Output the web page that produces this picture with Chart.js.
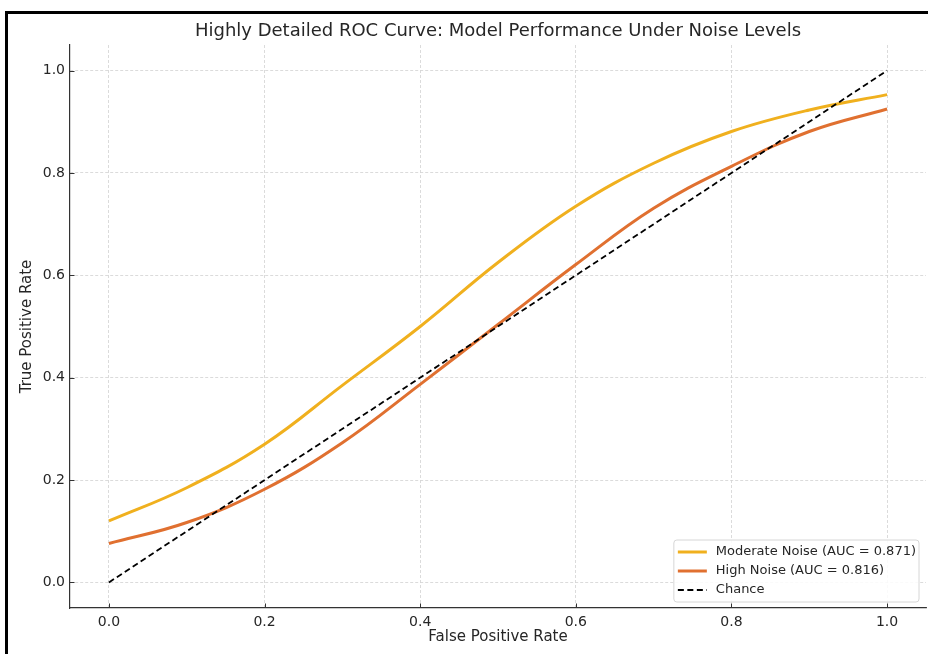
<!DOCTYPE html>
<html>
<head>
<meta charset="utf-8">
<script src="https://cdn.jsdelivr.net/npm/chart.js@4.4.1/dist/chart.umd.min.js"></script>
<style>
  html, body { margin: 0; padding: 0; background: #fff; overflow: hidden; }
  #wrap { position: relative; width: 928px; height: 654px; }
  #frame { position: absolute; left: 5px; top: 11px; width: 1200px; height: 1200px; border: 3px solid #000; pointer-events: none; }
</style>
</head>
<body>
<div id="wrap">
  <canvas id="rocChart" width="928" height="654"></canvas>
  <div id="frame"></div>
</div>
<script>
// values
var fpr = [0.0, 0.1, 0.2, 0.3, 0.4, 0.5, 0.6, 0.7, 0.8, 0.9, 1.0];
var moderateTpr = [0.120, 0.185, 0.270, 0.385, 0.500, 0.625, 0.735, 0.819, 0.881, 0.923, 0.953];
var highTpr = [0.076, 0.117, 0.182, 0.273, 0.387, 0.504, 0.621, 0.731, 0.813, 0.881, 0.925];
var chanceFpr = [0, 1];
var chanceTpr = [0, 1];
var seriesLabels = ['Moderate Noise (AUC = 0.871)', 'High Noise (AUC = 0.816)', 'Chance'];
var xTicks = [0.0, 0.2, 0.4, 0.6, 0.8, 1.0];
var yTicks = [0.0, 0.2, 0.4, 0.6, 0.8, 1.0];
var chartTitle = 'Highly Detailed ROC Curve: Model Performance Under Noise Levels';

var FONT = 'DejaVu Sans';
var TEXT = '#262626';

function toPoints(xs, ys) {
    return xs.map(function(x, i) { return { x: x, y: ys[i] }; });
}

// title centred over the plot area (not the whole canvas)
var axesTitle = {
    id: 'axesTitle',
    afterDraw: function(chart) {
        var ctx = chart.ctx, area = chart.chartArea;
        ctx.save();
        ctx.font = '18px "' + FONT + '"';
        ctx.fillStyle = TEXT;
        ctx.textAlign = 'center';
        ctx.textBaseline = 'middle';
        ctx.fillText(chartTitle, (area.left + area.right) / 2, area.top - 14);
        ctx.restore();
    }
};

// matplotlib style ticks pointing into the plot
var inwardTicks = {
    id: 'inwardTicks',
    afterDatasetsDraw: function(chart) {
        var ctx = chart.ctx, area = chart.chartArea;
        var xs = chart.scales.x, ys = chart.scales.y;
        ctx.save();
        ctx.strokeStyle = '#333333';
        ctx.lineWidth = 1;
        ctx.beginPath();
        xTicks.forEach(function(v) {
            var px = Math.round(xs.getPixelForValue(v)) + 0.5;
            ctx.moveTo(px, area.bottom);
            ctx.lineTo(px, area.bottom - 4.5);
        });
        yTicks.forEach(function(v) {
            var py = Math.round(ys.getPixelForValue(v)) + 0.5;
            ctx.moveTo(area.left, py);
            ctx.lineTo(area.left + 4.5, py);
        });
        ctx.stroke();
        ctx.restore();
    }
};

// legend drawn inside the plot, lower right
var insideLegend = {
    id: 'insideLegend',
    afterDraw: function(chart) {
        var ctx = chart.ctx, area = chart.chartArea;
        var sets = chart.data.datasets;
        ctx.save();
        ctx.font = '13px "' + FONT + '"';
        var textW = 0;
        sets.forEach(function(ds) { textW = Math.max(textW, ctx.measureText(ds.label).width); });
        var rowH = 19, handle = 29;
        var w = 4 + handle + 9 + textW + 3;
        var h = rowH * 3 + 5;
        var right = area.right - 7, bottom = area.bottom - 6;
        var x0 = right - w, y0 = bottom - h;

        ctx.beginPath();
        ctx.roundRect(x0, y0, w, h, 3);
        ctx.fillStyle = 'rgba(255,255,255,0.85)';
        ctx.fill();
        ctx.strokeStyle = '#d6d6d6';
        ctx.lineWidth = 1;
        ctx.stroke();

        sets.forEach(function(ds, i) {
            var cy = y0 + 12 + i * rowH;
            ctx.beginPath();
            ctx.setLineDash(ds.borderDash || []);
            ctx.strokeStyle = ds.borderColor;
            ctx.lineWidth = ds.borderWidth;
            ctx.moveTo(x0 + 4, cy);
            ctx.lineTo(x0 + 4 + handle, cy);
            ctx.stroke();
            ctx.setLineDash([]);
            ctx.fillStyle = TEXT;
            ctx.textBaseline = 'middle';
            ctx.fillText(ds.label, x0 + 4 + handle + 9, cy);
        });
        ctx.restore();
    }
};

var gridOpts = {
    color: '#d2d2d2',
    lineWidth: 0.8,
    drawTicks: false
};
var borderOpts = { display: true, color: '#333333', width: 1.2, dash: [3, 2] };

var ctx = document.getElementById('rocChart').getContext('2d');
var rocChart = new Chart(ctx, {
    type: 'line',
    data: {
        datasets: [
            {
                label: seriesLabels[0],
                data: toPoints(fpr, moderateTpr),
                borderColor: '#f0b01e',
                borderWidth: 3,
                pointRadius: 0,
                tension: 0.4,
                fill: false,
                order: 2
            },
            {
                label: seriesLabels[1],
                data: toPoints(fpr, highTpr),
                borderColor: '#e07030',
                borderWidth: 3,
                pointRadius: 0,
                tension: 0.4,
                fill: false,
                order: 1
            },
            {
                label: seriesLabels[2],
                data: toPoints(chanceFpr, chanceTpr),
                borderColor: '#000000',
                borderWidth: 1.8,
                borderDash: [6, 3.5],
                pointRadius: 0,
                fill: false,
                order: 0
            }
        ]
    },
    options: {
        responsive: false,
        animation: false,
        layout: { padding: { left: 0, right: 2, top: 45, bottom: 0 } },
        plugins: {
            legend: { display: false },
            tooltip: { enabled: false },
            title: { display: false }
        },
        scales: {
            x: {
                type: 'linear',
                min: -0.05,
                max: 1.05,
                afterBuildTicks: function(axis) {
                    axis.ticks = xTicks.map(function(v) { return { value: v }; });
                },
                afterFit: function(axis) { axis.height = 46; },
                ticks: {
                    color: TEXT,
                    padding: 6,
                    font: { family: FONT, size: 14 },
                    callback: function(v) { return v.toFixed(1); }
                },
                grid: gridOpts,
                border: borderOpts,
                title: {
                    display: true,
                    text: 'False Positive Rate',
                    color: TEXT,
                    font: { family: FONT, size: 15 },
                    padding: { top: 0, bottom: 8 }
                }
            },
            y: {
                type: 'linear',
                min: -0.05,
                max: 1.05,
                afterBuildTicks: function(axis) {
                    axis.ticks = yTicks.map(function(v) { return { value: v }; });
                },
                afterFit: function(axis) { axis.width = 70; },
                ticks: {
                    color: TEXT,
                    padding: 5,
                    font: { family: FONT, size: 14 },
                    callback: function(v) { return v.toFixed(1); }
                },
                grid: gridOpts,
                border: borderOpts,
                title: {
                    display: true,
                    text: 'True Positive Rate',
                    color: TEXT,
                    font: { family: FONT, size: 15 },
                    padding: { top: 18, bottom: 0 }
                }
            }
        }
    },
    plugins: [axesTitle, inwardTicks, insideLegend]
});
</script>
</body>
</html>
